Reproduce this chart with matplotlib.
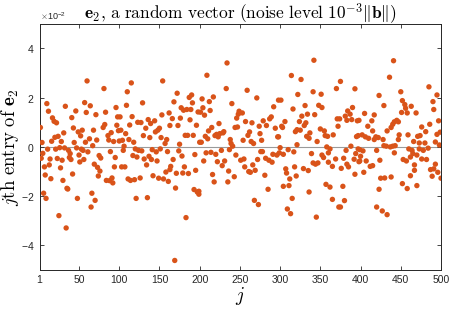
import numpy as np
import matplotlib
matplotlib.use("Agg")
import matplotlib.pyplot as plt
from matplotlib.ticker import ScalarFormatter

# ── Data: index j and entry value (units of 1e-2) ──
J = [2, 10, 12, 60, 81, 57, 64, 33, 46, 59, 83, 71, 96, 98, 17, 19, 22, 41, 82, 80,
     43, 49, 54, 68, 97, 99, 31, 24, 20, 16, 4, 28, 44, 52, 63, 58, 72, 86, 90, 87,
     93, 100, 67, 11, 21, 26, 32, 37, 39, 47, 53, 50, 55, 61, 5, 3, 14, 23, 29, 38,
     40, 51, 56, 75, 77, 89, 95, 7, 13, 27, 69, 73, 76, 94, 8, 15, 30, 42, 74, 84,
     88, 91, 92, 36, 35, 48, 6, 9, 66, 70, 65, 25, 34,
     115, 154, 110, 172, 109, 129, 168, 187, 190, 177, 180, 184, 189, 191, 198, 153, 162, 101, 116, 166,
     176, 188, 136, 144, 123, 127, 139, 113, 163, 173, 196, 133, 150, 148, 145, 102, 108, 130, 138, 152,
     182, 185, 192, 104, 112, 118, 159, 157, 200, 175, 106, 105, 120, 124, 128, 141, 146, 151, 160, 174,
     117, 122, 131, 137, 140, 147, 178, 194, 167, 134, 164, 103, 107, 163, 181, 195, 158, 171, 179, 186,
     142, 111, 119, 114, 126, 149, 155, 161, 170, 193, 197, 199, 121, 135, 183, 169,
     234, 209, 233, 259, 271, 203, 212, 217, 240, 204, 213, 201, 206, 292, 298, 249, 253, 248, 246, 257,
     265, 287, 289, 279, 283, 294, 274, 244, 247, 224, 215, 211, 262, 275, 207, 210, 219, 223, 225, 229,
     230, 221, 260, 238, 254, 264, 267, 277, 297, 202, 239, 241, 227, 237, 208, 214, 220, 245, 276, 278,
     296, 291, 282, 286, 290, 272, 251, 255, 205, 222, 231, 228, 256, 266, 261, 263, 269, 236, 216, 243,
     281, 218, 235, 285, 199, 268, 273,
     342, 314, 326, 375, 370, 393, 341, 351, 322, 301, 331, 348, 352, 316, 384, 387, 390, 334, 343, 327,
     371, 374, 381, 383, 389, 396, 306, 324, 332, 330, 302, 303, 372, 325, 321, 319, 350, 355, 337, 333,
     336, 356, 359, 366, 395, 298, 346, 321, 358, 362, 388, 397, 300, 310, 299, 304, 317, 339, 352, 354,
     360, 382, 394, 369, 379, 392, 399, 360, 341, 344, 347, 365, 376, 383, 385, 318, 329, 335, 307, 308,
     320, 312, 393, 304, 311, 357, 362, 378, 336, 315, 365, 380, 373, 375, 309, 313, 345,
     441, 436, 485, 450, 495, 423, 452, 490, 455, 429, 463, 456, 491, 451, 458, 469, 405, 417, 409, 414,
     398, 442, 445, 447, 440, 486, 497, 476, 438, 415, 481, 433, 402, 406, 410, 419, 422, 417, 397, 448,
     447, 459, 471, 474, 495, 499, 428, 466, 473, 480, 493, 429, 432, 437, 440, 443, 498, 399, 403, 420,
     442, 460, 464, 473, 478, 484, 465, 470, 400, 462, 476, 482, 453, 457, 398, 407, 424, 467, 493, 412,
     415, 467, 487, 491, 404, 496, 462, 489, 500, 425, 430, 438, 452, 470, 458, 423, 420, 427, 433]

VAL = [0.79, 1.76, 1.45, 2.68, 2.37, 1.80, 1.67, 1.65, 1.46, 1.40, 1.41, 1.31, 1.60, 1.22, 1.18, 1.04, 0.98, 1.19, 0.91, 0.79,
       0.77, 0.61, 0.68, 0.68, 0.88, 0.66, 0.57, 0.43, 0.39, 0.23, 0.18, 0.22, 0.18, 0.45, 0.33, 0.19, 0.28, 0.46, 0.58, 0.28,
       0.22, 0.24, 0.05, -0.09, -0.09, -0.03, -0.04, -0.14, -0.27, -0.04, -0.09, -0.33, -0.14, -0.20, -0.26, -0.46, -0.49, -0.47, -0.54, -0.43,
       -0.51, -0.61, -0.51, -0.35, -0.45, -0.19, -0.43, -0.81, -0.73, -0.85, -0.70, -0.83, -0.98, -0.81, -1.14, -1.29, -1.36, -1.10, -1.18, -1.36,
       -1.37, -1.26, -1.46, -1.71, -1.68, -2.09, -1.88, -2.09, -1.88, -2.17, -2.44, -2.79, -3.29,
       2.60, 2.68, 2.24, 2.18, 1.69, 1.79, 1.83, 2.01, 2.11, 1.59, 1.49, 1.52, 1.52, 1.79, 1.42, 1.30, 1.38, 1.22, 1.23, 1.15,
       1.17, 1.10, 1.11, 1.06, 1.00, 0.99, 0.95, 0.89, 0.87, 0.87, 0.88, 0.76, 0.76, 0.68, 0.61, 0.68, 0.54, 0.46, 0.38, 0.38,
       0.47, 0.47, 0.47, 0.27, 0.30, 0.19, 0.30, 0.14, 0.19, 0.11, 0.03, -0.14, -0.08, -0.14, -0.16, -0.11, -0.20, -0.08, -0.19, -0.16,
       -0.35, -0.41, -0.49, -0.38, -0.51, -0.57, -0.37, -0.31, -0.51, -0.73, -0.79, -0.81, -0.81, -0.92, -0.81, -0.95, -1.02, -1.07, -1.06, -1.08,
       -1.17, -1.30, -1.33, -1.36, -1.26, -1.27, -1.30, -1.40, -1.67, -1.73, -1.83, -1.92, -2.09, -2.06, -2.87, -4.61,
       3.41, 2.91, 2.37, 2.30, 1.99, 1.95, 1.84, 2.03, 1.76, 1.59, 1.48, 1.41, 1.29, 1.63, 1.90, 1.45, 1.38, 1.33, 1.17, 1.03,
       0.98, 1.14, 1.22, 1.06, 0.87, 0.76, 0.84, 0.79, 0.81, 0.95, 0.79, 0.65, 0.61, 0.54, 0.43, 0.33, 0.46, 0.41, 0.54, 0.57,
       0.62, 0.51, 0.47, 0.30, 0.27, 0.22, 0.14, 0.27, 0.41, 0.19, 0.14, 0.03, -0.14, -0.11, -0.24, -0.22, -0.30, -0.33, -0.19, -0.19,
       -0.33, -0.30, -0.46, -0.54, -0.62, -0.51, -0.54, -0.49, -0.57, -0.60, -0.57, -0.76, -0.81, -0.73, -1.00, -1.03, -0.95, -0.98, -1.12, -1.21,
       -1.15, -1.42, -1.42, -1.72, -1.80, -2.17, -2.34,
       3.52, 2.90, 2.74, 2.66, 2.37, 2.36, 2.24, 2.14, 2.13, 1.90, 1.68, 1.69, 1.60, 1.54, 1.46, 1.33, 1.60, 1.33, 1.31, 1.25,
       1.14, 1.14, 1.25, 1.08, 1.11, 1.06, 1.03, 1.03, 0.98, 0.87, 0.84, 0.79, 0.84, 0.68, 0.70, 0.62, 0.73, 0.65, 0.57, 0.43,
       0.35, 0.46, 0.43, 0.49, 0.42, 0.41, 0.22, 0.09, 0.00, -0.08, 0.03, -0.08, -0.03, -0.11, -0.24, -0.30, -0.20, -0.27, -0.33, -0.43,
       -0.24, -0.14, -0.27, -0.49, -0.46, -0.50, -0.57, -0.62, -0.65, -0.70, -0.65, -0.79, -0.87, -0.70, -0.81, -0.81, -0.88, -0.96, -0.89, -1.06,
       -1.18, -1.30, -1.11, -1.60, -1.57, -1.52, -1.63, -1.60, -1.83, -2.09, -2.13, -2.18, -2.44, -2.44, -2.52, -2.71, -2.85,
       3.50, 2.83, 2.44, 2.24, 2.11, 2.09, 1.88, 1.84, 1.72, 1.68, 1.65, 1.57, 1.52, 1.40, 1.38, 1.38, 1.36, 1.30, 0.84, 1.06,
       1.08, 1.02, 1.08, 1.02, 0.92, 0.92, 1.06, 0.81, 0.79, 0.65, 0.62, 0.65, 0.49, 0.41, 0.35, 0.41, 0.38, 0.30, 0.46, 0.49,
       0.30, 0.49, 0.43, 0.46, 0.51, 0.60, 0.30, 0.22, 0.16, 0.16, 0.20, 0.05, 0.03, 0.00, 0.03, 0.05, 0.08, -0.11, -0.16, -0.14,
       -0.24, -0.08, -0.14, -0.08, -0.14, -0.05, -0.27, -0.33, -0.38, -0.41, -0.49, -0.51, -0.51, -0.57, -0.60, -0.57, -0.54, -0.73, -0.70, -0.79,
       -0.76, -0.95, -0.92, -0.89, -1.03, -1.03, -1.17, -1.19, -1.27, -1.27, -1.26, -1.22, -1.49, -1.57, -1.69, -1.72, -2.44, -2.60, -2.75]

XTICKS = [1, 50, 100, 150, 200, 250, 300, 350, 400, 450, 500]
YTICKS = [-4e-2, -2e-2, 0, 2e-2, 4e-2]

TITLE = r"$\mathbf{e}_2\mathrm{,\,a\ random\ vector\ (noise\ level\ }10^{-3}\|\mathbf{b}\|\mathrm{)}$"
XLABEL = r"$j$"
YLABEL = r"$j\mathrm{th\ entry\ of\ }\mathbf{e}_2$"

DOT = "#D95319"
AXC = "#262626"

plt.rcParams["mathtext.fontset"] = "cm"
plt.rcParams["font.family"] = "Liberation Sans"
plt.rcParams["axes.unicode_minus"] = False

j = np.array(J)
e2 = np.array(VAL) * 1e-2

fig = plt.figure(figsize=(4.5, 3.09), dpi=100)
ax = fig.add_axes([0.088, 0.126, 0.892, 0.797])

ax.axhline(0, color="#9a9a9a", lw=0.8, zorder=1)
ax.scatter(j, e2, s=15, c=DOT, edgecolors="none", zorder=3)

ax.set_xlim(1, 500)
ax.set_ylim(-5e-2, 5e-2)
ax.set_xticks(XTICKS)
ax.set_yticks(YTICKS)

fmt = ScalarFormatter(useMathText=True)
fmt.set_powerlimits((-2, -2))
ax.yaxis.set_major_formatter(fmt)
ax.yaxis.get_offset_text().set_fontsize(6.5)
ax.yaxis.get_offset_text().set_color(AXC)

ax.tick_params(direction="in", length=3, width=0.6, colors=AXC,
               labelsize=7.5, top=True, right=True)
for sp in ax.spines.values():
    sp.set_color(AXC)
    sp.set_linewidth(0.7)

ax.set_title(TITLE, fontsize=12.5, pad=4)
ax.set_xlabel(XLABEL, fontsize=14, labelpad=0)
ax.set_ylabel(YLABEL, fontsize=13.5)
ax.yaxis.set_label_coords(-0.047, 0.5)

fig.savefig("out.png", dpi=100)
